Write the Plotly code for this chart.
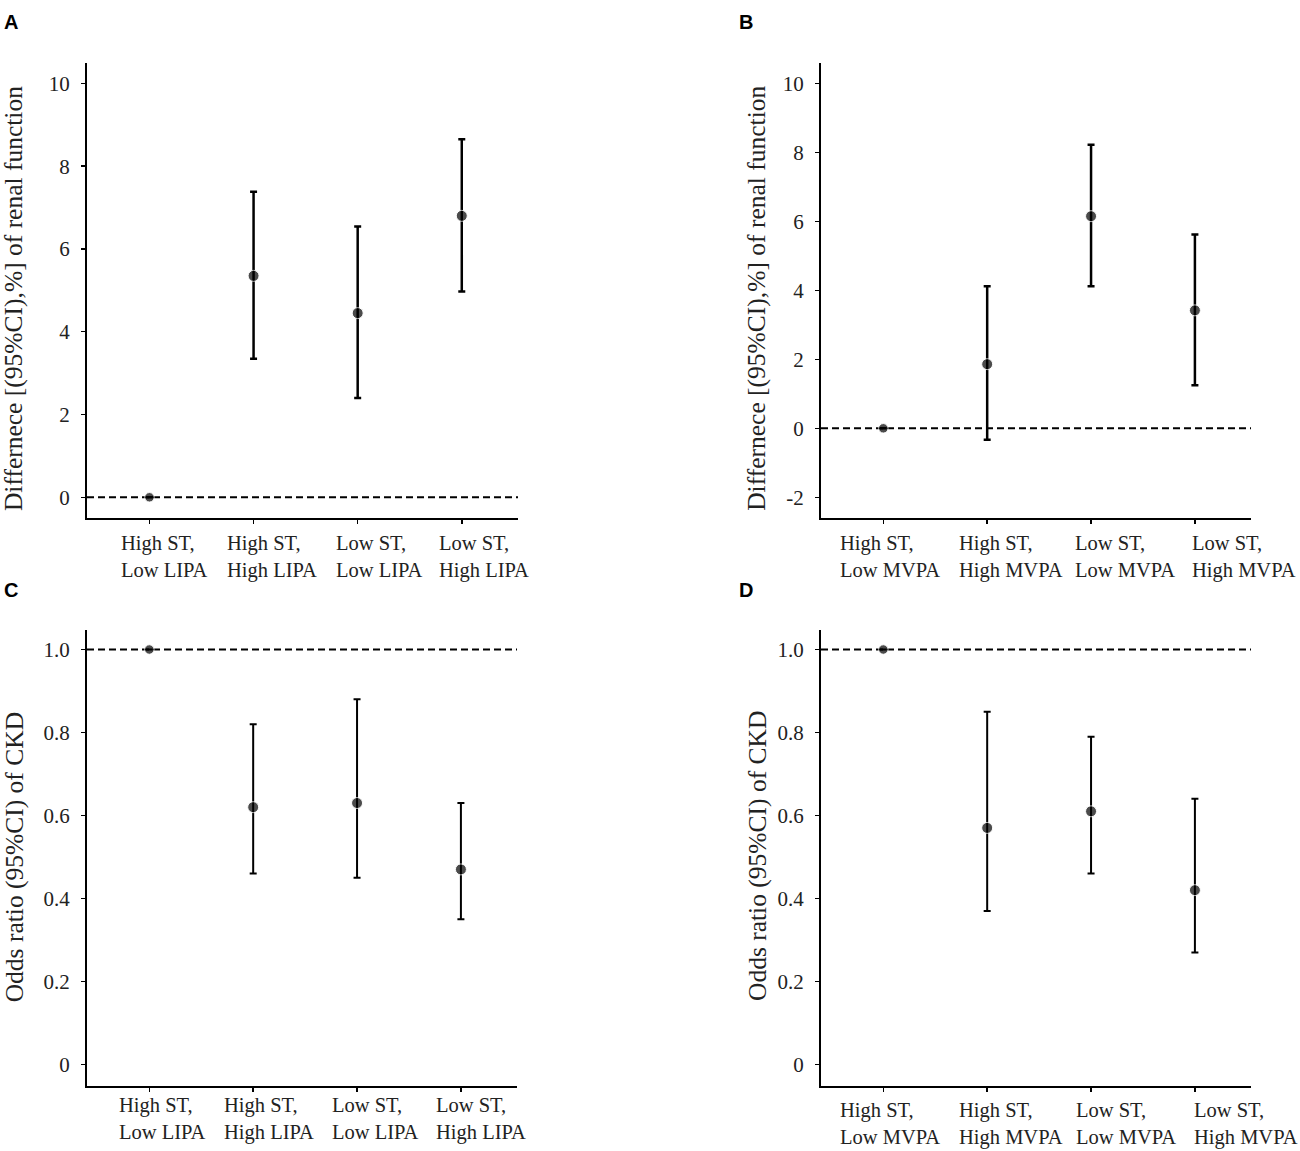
import plotly.graph_objects as go

# ---------------- data ----------------
cats_lipa = ["High ST, Low LIPA", "High ST, High LIPA", "Low ST, Low LIPA", "Low ST, High LIPA"]
cats_mvpa = ["High ST, Low MVPA", "High ST, High MVPA", "Low ST, Low MVPA", "Low ST, High MVPA"]

a_est = [0.0, 5.35, 4.45, 6.80]
a_lo = [0.0, 3.35, 2.40, 4.97]
a_hi = [0.0, 7.38, 6.54, 8.65]

b_est = [0.0, 1.86, 6.15, 3.42]
b_lo = [0.0, -0.33, 4.12, 1.25]
b_hi = [0.0, 4.12, 8.22, 5.62]

c_est = [1.0, 0.62, 0.63, 0.47]
c_lo = [1.0, 0.46, 0.45, 0.35]
c_hi = [1.0, 0.82, 0.88, 0.63]

d_est = [1.0, 0.57, 0.61, 0.42]
d_lo = [1.0, 0.37, 0.46, 0.27]
d_hi = [1.0, 0.85, 0.79, 0.64]

diff_ticks_a = [0, 2, 4, 6, 8, 10]
diff_ticks_b = [-2, 0, 2, 4, 6, 8, 10]
diff_ticktext_b = ["-2", "0", "2", "4", "6", "8", "10"]
or_ticks = [0, 0.2, 0.4, 0.6, 0.8, 1.0]
or_ticktext = ["0", "0.2", "0.4", "0.6", "0.8", "1.0"]

title_diff = "Differnece [(95%CI),%] of renal function"
title_or = "Odds ratio (95%CI) of CKD"

# ---------------- layout helpers ----------------
W, H = 1300, 1151
SERIF = "Liberation Serif"


def px(x):
    return x / W


def py(y):
    return 1 - y / H


panels = [
    dict(letter="A", cats=cats_lipa, est=a_est, lo=a_lo, hi=a_hi, ref=0.0,
         yr=[-0.5, 10.5], tv=diff_ticks_a, tt=None,
         xd=(87, 518), yd=(62.7, 518), th=2.5, shifts=[-30, -29, -24, -25], ysh=-12,
         title=title_diff, tpos=(13.5, 298.6), lpos=(11, 22)),
    dict(letter="B", cats=cats_mvpa, est=b_est, lo=b_lo, hi=b_hi, ref=0.0,
         yr=[-2.6, 10.6], tv=diff_ticks_b, tt=diff_ticktext_b,
         xd=(821, 1251), yd=(62.7, 518), th=2.5, shifts=[-45, -30, -18, -5], ysh=-12,
         title=title_diff, tpos=(757, 298.8), lpos=(746, 22)),
    dict(letter="C", cats=cats_lipa, est=c_est, lo=c_lo, hi=c_hi, ref=1.0,
         yr=[-0.052, 1.047], tv=or_ticks, tt=or_ticktext,
         xd=(87, 517), yd=(630, 1086), th=2.0, shifts=[-32, -31, -27, -27], ysh=-6,
         title=title_or, tpos=(14.3, 857), lpos=(11, 590)),
    dict(letter="D", cats=cats_mvpa, est=d_est, lo=d_lo, hi=d_hi, ref=1.0,
         yr=[-0.052, 1.047], tv=or_ticks, tt=or_ticktext,
         xd=(821, 1251), yd=(630, 1086), th=2.0, shifts=[-45, -30, -17, -3], ysh=-11,
         title=title_or, tpos=(757, 856), lpos=(746, 590)),
]

fig = go.Figure()
layout = dict(
    width=W, height=H,
    margin=dict(l=0, r=0, t=0, b=0),
    paper_bgcolor="white", plot_bgcolor="white",
    showlegend=False,
    font=dict(family=SERIF, color="black"),
)
annotations = []
shapes = []

for i, p in enumerate(panels, start=1):
    sfx = "" if i == 1 else str(i)
    xa, ya = "x" + sfx, "y" + sfx
    est, lo, hi = p["est"], p["lo"], p["hi"]
    plus = [h - v for h, v in zip(hi, est)]
    minus = [v - l for v, l in zip(est, lo)]
    sizes = [9.5] + [11] * (len(est) - 1)

    fig.add_trace(go.Scatter(
        x=p["cats"], y=est, mode="markers",
        marker=dict(color="black", size=sizes),
        error_y=dict(type="data", symmetric=False, array=plus, arrayminus=minus,
                     color="black", thickness=p["th"], width=3.5),
        xaxis=xa, yaxis=ya, hoverinfo="skip",
    ))

    layout["xaxis" + sfx] = dict(
        domain=[px(p["xd"][0]), px(p["xd"][1])], anchor=ya,
        type="category", categoryorder="array", categoryarray=p["cats"],
        range=[-0.6, 3.54], showticklabels=False,
        ticks="outside", ticklen=4, tickwidth=1.5, tickcolor="black",
        showline=True, linewidth=2, linecolor="black",
        showgrid=False, zeroline=False, automargin=False, fixedrange=True,
    )
    yax = dict(
        domain=[py(p["yd"][1]), py(p["yd"][0])], anchor=xa,
        range=p["yr"], tickvals=p["tv"],
        ticks="outside", ticklen=4, tickwidth=1.5, tickcolor="black",
        tickfont=dict(family=SERIF, size=21, color="#222"),
        ticklabelstandoff=7,
        showline=True, linewidth=2, linecolor="black",
        showgrid=False, zeroline=False, automargin=False, fixedrange=True,
    )
    if p["tt"] is not None:
        yax["ticktext"] = p["tt"]
    layout["yaxis" + sfx] = yax

    # dashed reference line
    shapes.append(dict(
        type="line", xref=xa + " domain", yref=ya,
        x0=0, x1=1, y0=p["ref"], y1=p["ref"],
        line=dict(color="black", width=2, dash="7px,4px"), layer="below",
    ))

    # category labels (two lines, left aligned)
    for c, sh in zip(p["cats"], p["shifts"]):
        annotations.append(dict(
            text=c.replace(", ", ",<br>"), x=c, y=0, xref=xa, yref=ya + " domain",
            xanchor="left", yanchor="top", align="left", showarrow=False,
            xshift=sh, yshift=p["ysh"],
            font=dict(family=SERIF, size=20.5, color="#222"),
        ))

    # y-axis title
    annotations.append(dict(
        text=p["title"], x=px(p["tpos"][0]), y=py(p["tpos"][1]),
        xref="paper", yref="paper", textangle=-90,
        xanchor="center", yanchor="middle", showarrow=False,
        font=dict(family=SERIF, size=25.5, color="#222"),
    ))

    # panel letter
    annotations.append(dict(
        text="<b>%s</b>" % p["letter"], x=px(p["lpos"][0]), y=py(p["lpos"][1]),
        xref="paper", yref="paper", xanchor="center", yanchor="middle",
        showarrow=False, font=dict(family="Liberation Sans", size=20, color="black"),
    ))

layout["annotations"] = annotations
layout["shapes"] = shapes
fig.update_layout(**layout)

# remove the page's default body margin so the figure fills the window exactly
fig.write_html(
    "out.html",
    config={"displayModeBar": False, "staticPlot": True},
    post_script="document.body.style.margin='0';document.body.style.overflow='hidden';",
)
